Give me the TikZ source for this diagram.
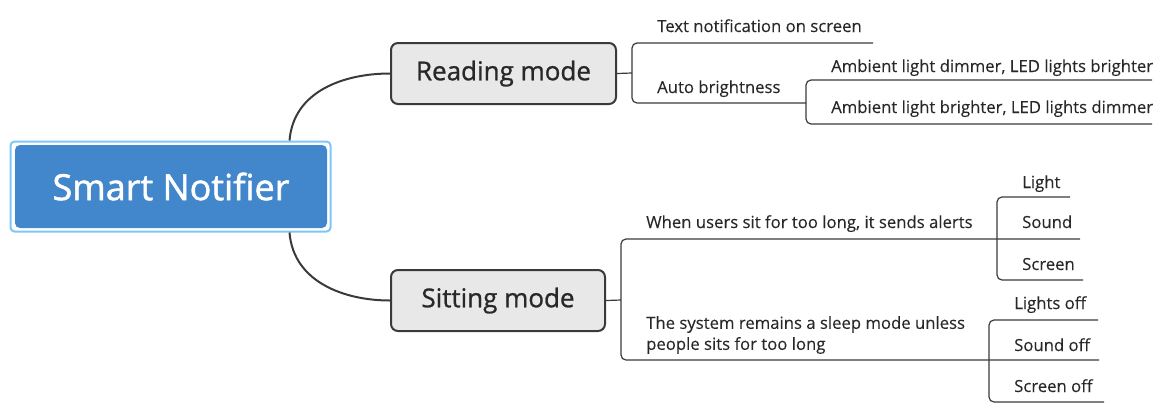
\documentclass[tikz,border=0pt]{standalone}
\usepackage{fontspec}
\setmainfont{Open Sans}
\newfontfamily\rootfont{Open Sans}[FakeBold=1.4]
\newfontfamily\medfont{Open Sans}[FakeBold=0.9]
\newfontfamily\leaffont{Open Sans}[FakeBold=0.15]
\usetikzlibrary{calc}
\definecolor{rootblue}{RGB}{66,134,204}
\definecolor{rootframe}{RGB}{126,198,248}
\definecolor{modegray}{RGB}{232,232,232}
\definecolor{linegray}{RGB}{58,58,58}
\definecolor{txtgray}{RGB}{40,40,40}
\begin{document}
\begin{tikzpicture}[x=1pt,y=-1pt,
  rootbox/.style={rounded corners=5pt, fill=rootblue, draw=none, minimum width=312pt, minimum height=83pt, inner sep=0pt, text=white, font=\rootfont\fontsize{36}{42}\selectfont},
  rootring/.style={rounded corners=4pt, draw=rootframe, line width=2pt, minimum width=320pt, minimum height=90pt, inner sep=0pt},
  modebox/.style={rounded corners=7pt, fill=modegray, draw=linegray, line width=2pt, inner sep=0pt, text=txtgray, minimum height=61pt, font=\medfont\fontsize{26}{30}\selectfont},
  leaf/.style={inner sep=0pt, anchor=base west, text=txtgray, font=\leaffont\fontsize{16.7}{21}\selectfont},
  branch/.style={draw=linegray, line width=2pt},
  conn/.style={draw=linegray, line width=1.2pt, rounded corners=5pt}]
\useasboundingbox (0,0) rectangle (1166,416);

% root
\node[rootring] (ring) at (170.5,186.5) {};
\node[rootbox] (root) at (171,186.5) {Smart Notifier};

% modes
\node[modebox, minimum width=225pt] (reading) at (503.5,73.5) {Reading mode};
\node[modebox, minimum width=214pt] (sitting) at (498,300.5) {Sitting mode};

\draw[branch] ($(ring.north east)+(-42,0)$) .. controls +(4,-50) and +(-45,0) .. (reading.west);
\draw[branch] ($(ring.south east)+(-42,0)$) .. controls +(4,50) and +(-45,0) .. (sitting.west);

% reading branch
\node[leaf] (tn) at (657,32) {Text notification on screen};
\node[leaf] (ab) at (657,93) {Auto brightness};
\node[leaf] (ad) at (831,72) {Ambient light dimmer, LED lights brighter};
\node[leaf] (abr) at (831,113) {Ambient light brighter, LED lights dimmer};
\coordinate (rj) at (632,73);
\coordinate (tnE) at (873,43);
\coordinate (abE) at (806,103);
\coordinate (adE) at (1152,80);
\coordinate (abrE) at (1152,124);
\draw[conn] (reading.east) -- (rj);
\draw[conn] (tnE) -- (tnE -| rj) -- (abE -| rj) -- (abE);
\draw[conn] (adE) -- (adE -| abE) -- (abrE -| abE) -- (abrE);

% sitting branch
\node[leaf] (wu) at (646,228) {When users sit for too long, it sends alerts};
\node[leaf, anchor=west, align=left] (sy) at (646,335) {The system remains a sleep mode unless\\people sits for too long};
\node[leaf] (li) at (1022,188) {Light};
\node[leaf] (so) at (1022,228) {Sound};
\node[leaf] (sc) at (1022,270) {Screen};
\node[leaf] (lo) at (1014,309) {Lights off};
\node[leaf] (sf) at (1014,351) {Sound off};
\node[leaf] (scf) at (1014,392) {Screen off};
\coordinate (sj) at (621,300);
\coordinate (wuE) at (1080,239);
\coordinate (syE) at (1099,360);
\coordinate (s1) at (997,239);
\coordinate (liE) at (1070,197);
\coordinate (scE) at (1083,280);
\coordinate (s2) at (989,360);
\coordinate (loE) at (1098,320);
\coordinate (scfE) at (1104,402);
\draw[conn] (sitting.east) -- (sj);
\draw[conn] (wuE) -- (wuE -| sj) -- (syE -| sj) -- (syE);
\draw[conn] (liE) -- (liE -| s1) -- (scE -| s1) -- (scE);
\draw[conn] (loE) -- (loE -| s2) -- (scfE -| s2) -- (scfE);
\end{tikzpicture}
\end{document}
